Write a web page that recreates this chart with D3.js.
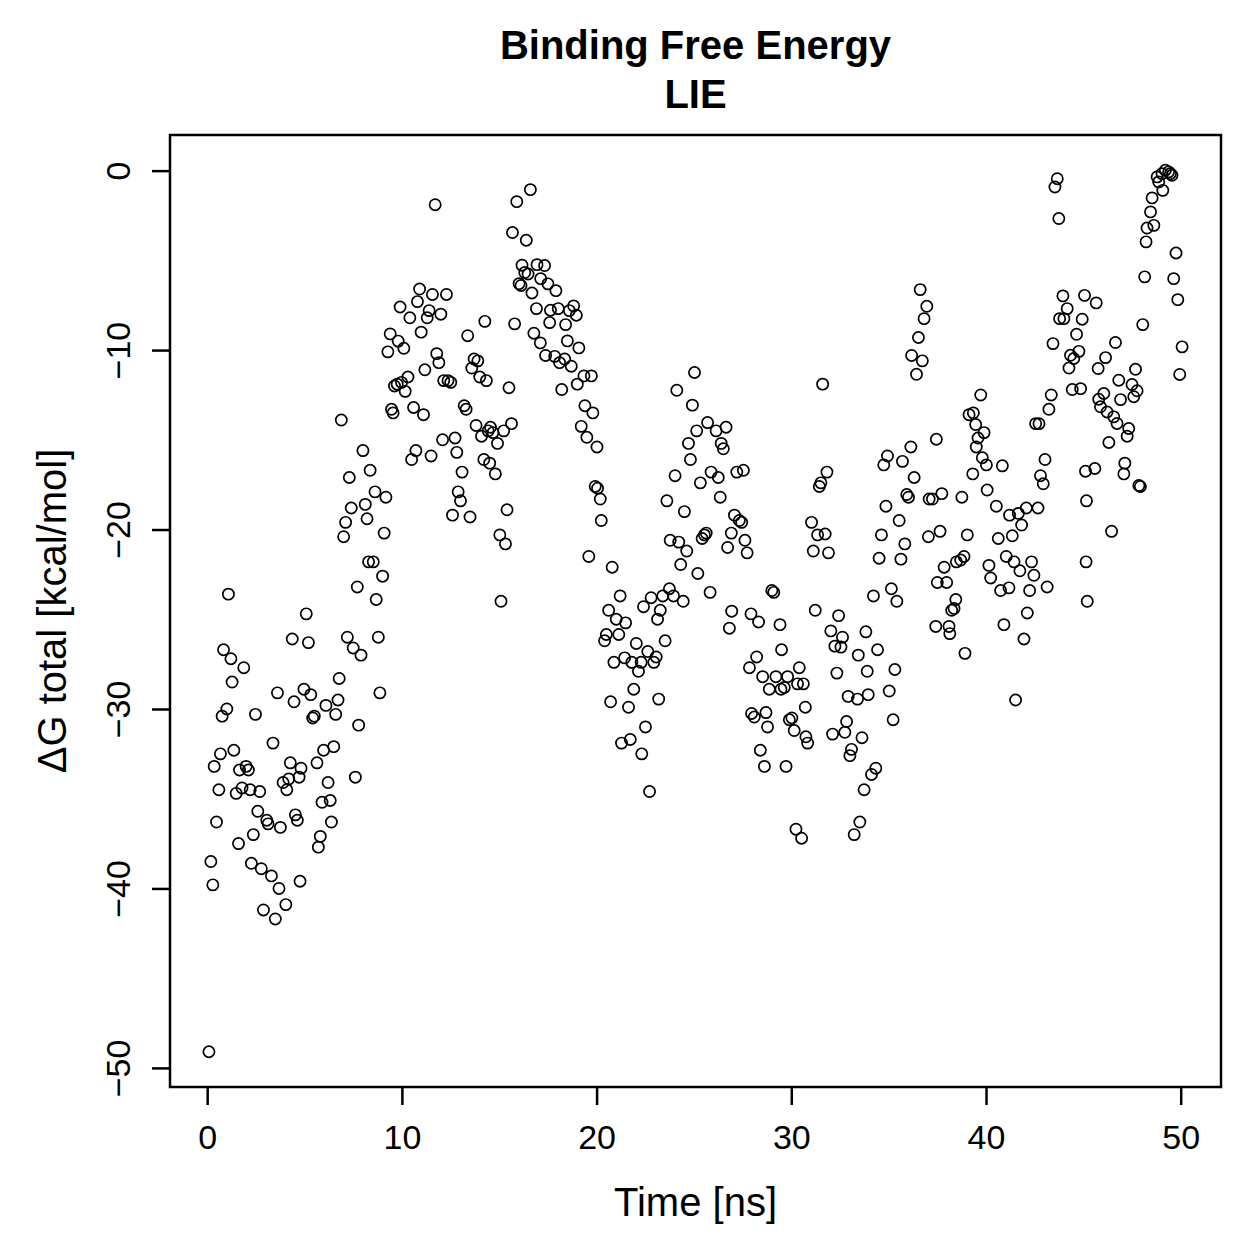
<!DOCTYPE html>
<html>
<head>
<meta charset="utf-8">
<script src="https://cdn.jsdelivr.net/npm/d3@7"></script>
<style>
  body { margin: 0; background: #fff; }
  svg { font-family: "Liberation Sans", Arial, Helvetica, sans-serif; }
</style>
</head>
<body>
<svg id="chart"></svg>
<script>
// time in ns
var time = [
  0.09,0.19,0.29,0.36,0.48,0.6,0.68,0.77,0.84,1.01,1.09,1.22,1.28,1.37,1.49,1.61,1.66,1.79,1.88,2.0,
  2.12,2.21,2.27,2.37,2.48,2.6,2.7,2.78,2.89,3.06,3.13,3.3,3.38,3.5,3.61,3.69,3.76,3.9,4.04,4.09,
  4.19,4.27,4.37,4.46,4.53,4.63,4.72,4.77,4.82,4.97,5.09,5.2,5.32,5.42,5.5,5.64,5.71,5.81,5.9,5.98,
  6.1,6.21,6.32,6.38,6.5,6.6,6.72,6.78,6.89,7.01,7.11,7.2,7.3,7.4,7.5,7.61,7.71,7.78,7.9,8.0,
  8.12,8.21,8.29,8.37,8.53,8.62,8.68,8.79,8.87,9.01,9.09,9.18,9.28,9.4,9.47,9.55,9.62,9.76,9.81,9.91,
  9.98,10.1,10.17,10.31,10.41,10.5,10.6,10.72,10.8,10.91,10.99,11.11,11.18,11.3,11.4,11.5,11.57,11.71,11.79,11.9,
  12.0,12.09,12.15,12.29,12.37,12.51,12.6,12.73,12.82,12.89,13.01,13.09,13.2,13.3,13.38,13.5,13.59,13.71,13.81,13.9,
  14.0,14.09,14.21,14.26,14.34,14.43,14.51,14.55,14.68,14.8,14.91,15.03,15.09,15.23,15.32,15.4,15.5,15.63,15.68,15.79,
  15.9,16.02,16.12,16.17,16.31,16.39,16.48,16.6,16.68,16.78,16.91,16.94,17.11,17.13,17.33,17.38,17.5,17.59,17.63,17.85,
  17.91,18.03,18.1,18.21,18.36,18.41,18.5,18.6,18.7,18.82,18.96,19.01,19.09,19.21,19.35,19.4,19.5,19.6,19.73,19.81,
  19.93,20.02,20.05,20.19,20.24,20.41,20.5,20.62,20.72,20.8,20.89,21.01,21.14,21.21,21.28,21.44,21.49,21.64,21.73,21.81,
  21.91,22.04,22.15,22.29,22.32,22.41,22.51,22.63,22.72,22.8,22.94,23.06,23.13,23.19,23.27,23.4,23.52,23.61,23.74,23.78,
  23.95,24.03,24.12,24.22,24.32,24.45,24.51,24.63,24.72,24.82,24.92,25.03,25.14,25.2,25.33,25.42,25.54,25.63,25.7,25.83,
  25.88,26.14,26.25,26.35,26.4,26.51,26.65,26.73,26.82,26.92,26.94,27.08,27.2,27.33,27.45,27.54,27.62,27.73,27.85,27.93,
  27.96,28.1,28.22,28.32,28.41,28.53,28.62,28.7,28.78,28.87,29.0,29.1,29.21,29.42,29.47,29.5,29.64,29.73,29.81,29.9,
  30.03,30.15,30.24,30.32,30.41,30.53,30.62,30.72,30.75,30.84,31.04,31.13,31.23,31.35,31.44,31.52,31.61,31.74,31.83,31.91,
  32.03,32.12,32.24,32.34,32.43,32.55,32.63,32.75,32.84,32.92,33.01,33.09,33.23,33.4,33.44,33.52,33.63,33.74,33.83,33.9,
  33.95,34.12,34.22,34.34,34.43,34.51,34.63,34.75,34.86,34.94,35.03,35.14,35.23,35.32,35.42,35.54,35.63,35.71,35.83,35.93,
  36.02,36.14,36.18,36.31,36.43,36.53,36.62,36.73,36.82,36.96,37.04,37.08,37.25,37.42,37.45,37.5,37.64,37.73,37.85,37.98,
  38.1,38.14,38.24,38.36,38.45,38.48,38.7,38.76,38.87,38.92,39.04,39.13,39.32,39.35,39.47,39.5,39.59,39.73,39.81,39.9,
  40.02,40.06,40.15,40.24,40.53,40.63,40.75,40.84,40.92,41.04,41.18,41.21,41.35,41.44,41.52,41.66,41.74,41.83,41.95,42.07,
  42.12,42.24,42.34,42.46,42.55,42.67,42.72,42.8,42.94,43.03,43.14,43.23,43.35,43.44,43.54,43.66,43.74,43.78,43.95,44.0,
  44.17,44.26,44.34,44.43,44.51,44.65,44.77,44.86,44.94,45.06,45.11,45.14,45.16,45.2,45.59,45.66,45.76,45.79,45.88,46.05,
  46.14,46.22,46.31,46.45,46.56,46.65,46.73,46.82,46.91,47.08,47.13,47.25,47.33,47.5,47.59,47.68,47.76,47.85,47.93,48.05,
  48.15,48.22,48.27,48.45,48.53,48.62,48.79,48.87,49.04,49.08,49.21,49.38,49.47,49.55,49.64,49.76,49.85,49.95,50.07
];

// delta G total in kcal/mol
var dG = [
  -49.1,-38.5,-39.8,-33.2,-36.3,-34.5,-32.5,-30.4,-26.7,-30.0,-23.6,-27.2,-28.5,-32.3,-34.7,-37.5,-33.4,-34.4,-27.7,-33.2,
  -33.4,-34.5,-38.6,-37.0,-30.3,-35.7,-34.6,-38.9,-41.2,-36.2,-36.4,-39.3,-31.9,-41.7,-29.1,-40.0,-36.6,-34.1,-40.9,-34.5,
  -33.9,-33.0,-26.1,-29.6,-35.9,-36.2,-33.8,-39.6,-33.3,-28.9,-24.7,-26.3,-29.2,-30.5,-30.4,-33.0,-37.7,-37.1,-35.2,-32.3,
  -29.8,-34.1,-35.1,-36.3,-32.1,-30.3,-29.5,-28.3,-13.9,-20.4,-19.6,-26.0,-17.1,-18.8,-26.6,-33.8,-23.2,-30.9,-27.0,-15.6,
  -18.6,-19.4,-21.8,-16.7,-21.8,-17.9,-23.9,-26.0,-29.1,-22.6,-20.2,-18.2,-10.1,-9.1,-13.3,-13.5,-12.0,-11.9,-9.5,-7.6,
  -11.8,-9.9,-12.3,-11.5,-8.2,-16.1,-13.2,-15.6,-7.3,-6.6,-9.0,-13.6,-11.1,-8.2,-7.8,-15.9,-6.9,-1.9,-10.2,-10.7,
  -8.0,-15.0,-11.7,-6.9,-11.7,-11.8,-19.2,-14.9,-15.7,-17.9,-18.4,-16.8,-13.1,-13.3,-9.2,-19.3,-11.0,-10.5,-14.2,-10.6,
  -11.5,-14.8,-16.1,-8.4,-11.7,-14.5,-16.3,-14.3,-14.6,-16.9,-15.2,-20.3,-24.0,-14.5,-20.8,-18.9,-12.1,-14.1,-3.45,-8.54,
  -1.73,-6.3,-6.4,-5.27,-5.68,-3.88,-5.76,-1.06,-6.82,-9.06,-7.69,-5.24,-9.6,-6.02,-5.29,-10.3,-6.31,-8.47,-7.78,-10.35,
  -6.69,-7.69,-10.7,-12.2,-10.5,-8.58,-9.49,-7.8,-10.9,-7.54,-8.06,-11.9,-9.88,-14.25,-11.44,-13.1,-14.86,-21.5,-11.44,-13.5,
  -17.6,-15.4,-17.7,-18.3,-19.5,-26.2,-25.85,-24.5,-29.6,-22.1,-27.4,-25.0,-25.85,-23.7,-31.9,-27.15,-25.2,-29.9,-31.7,-27.4,
  -28.9,-26.35,-27.9,-27.4,-32.5,-24.3,-31.0,-26.8,-34.6,-23.8,-27.4,-27.1,-25.0,-29.45,-24.5,-23.7,-26.2,-18.4,-23.3,-20.6,
  -23.7,-17.0,-12.24,-20.7,-21.95,-24.0,-19.0,-21.2,-15.2,-16.1,-13.07,-11.25,-14.5,-22.45,-17.4,-20.5,-20.3,-20.2,-14.04,-23.5,
  -16.8,-14.5,-17.1,-18.2,-15.2,-15.5,-14.3,-21.0,-25.5,-20.2,-24.55,-19.2,-16.8,-19.5,-19.6,-16.7,-20.6,-21.3,-27.7,-24.7,
  -30.25,-30.45,-27.1,-25.15,-32.3,-28.2,-33.2,-30.2,-31.0,-28.9,-23.4,-23.5,-28.2,-25.3,-28.9,-26.7,-28.8,-33.2,-28.2,-30.6,
  -30.5,-31.2,-36.7,-28.6,-27.7,-37.2,-28.6,-29.9,-31.55,-31.9,-19.6,-21.2,-24.5,-20.3,-17.6,-17.4,-11.9,-20.25,-16.8,-21.3,
  -25.65,-31.4,-26.5,-28.0,-24.8,-26.55,-26.0,-31.3,-30.7,-29.3,-32.6,-32.25,-37.0,-29.45,-27.0,-36.3,-31.6,-34.5,-25.7,-27.9,
  -29.2,-33.65,-23.7,-33.3,-26.7,-21.6,-20.3,-16.4,-18.7,-15.9,-29.0,-23.3,-30.6,-27.8,-24.0,-19.5,-21.65,-16.2,-20.8,-18.05,
  -18.2,-15.4,-10.3,-17.1,-11.35,-9.3,-6.63,-10.6,-8.25,-7.56,-20.4,-18.3,-18.3,-25.4,-14.97,-22.95,-20.1,-18.0,-22.1,-22.95,
  -25.4,-25.8,-24.5,-24.4,-23.9,-21.8,-21.7,-18.2,-21.5,-26.9,-20.3,-13.6,-16.9,-13.5,-14.15,-15.4,-14.9,-12.5,-16.0,-14.6,
  -16.4,-17.8,-22.0,-22.7,-18.7,-20.5,-23.4,-16.45,-25.3,-21.5,-23.25,-19.2,-20.35,-21.8,-29.5,-19.1,-22.3,-19.75,-26.1,-18.8,
  -24.65,-23.4,-21.8,-22.55,-14.1,-18.8,-14.1,-17.0,-17.45,-16.1,-23.2,-13.3,-12.5,-9.64,-0.91,-0.45,-2.67,-8.25,-6.98,-8.25,
  -7.69,-11.0,-10.29,-12.2,-10.47,-9.12,-10.07,-12.15,-8.28,-6.95,-16.75,-21.8,-18.4,-24.0,-16.6,-7.37,-11.03,-12.74,-13.16,-12.42,
  -10.42,-13.45,-15.15,-20.1,-13.72,-9.58,-14.09,-11.68,-12.76,-16.9,-16.3,-14.8,-14.37,-11.92,-12.6,-11.07,-12.27,-17.55,-17.6,-8.58,
  -5.92,-3.97,-3.2,-2.3,-1.52,-3.05,-0.35,-0.63,-0.17,-1.1,0.02,-0.07,-0.17,-0.26,-6.02,-4.59,-7.19,-11.36,-9.82
];

var xTicks = [0, 10, 20, 30, 40, 50];
var yTicks = [-50, -40, -30, -20, -10, 0];

var svgWidth = 1259, svgHeight = 1259;
var margin = { top: 135, right: 38, bottom: 172, left: 170 };
var width = svgWidth - margin.left - margin.right;
var height = svgHeight - margin.top - margin.bottom;

var svg = d3.select("#chart")
    .attr("width", svgWidth)
    .attr("height", svgHeight);

var g = svg.append("g")
    .attr("transform", "translate(" + margin.left + "," + margin.top + ")");

// R style 4% padding on the data range
var xExt = d3.extent(time), yExt = d3.extent(dG);
var xPad = (xExt[1] - xExt[0]) * 0.04, yPad = (yExt[1] - yExt[0]) * 0.04;

var x = d3.scaleLinear()
    .domain([xExt[0] - xPad, xExt[1] + xPad])
    .range([0, width]);
var y = d3.scaleLinear()
    .domain([yExt[0] - yPad, yExt[1] + yPad])
    .range([height, 0]);

// x axis
var xAxis = g.append("g")
    .attr("transform", "translate(0," + height + ")")
    .call(d3.axisBottom(x).tickValues(xTicks).tickSize(18).tickSizeOuter(0));
xAxis.select(".domain").remove();
xAxis.selectAll("line").attr("stroke", "#000").attr("stroke-width", 2.5);
xAxis.selectAll("text")
    .attr("y", 62).attr("dy", 0)
    .attr("fill", "#000")
    .style("font-size", "34px");

// y axis, labels parallel to the axis
var yAxis = g.append("g")
    .call(d3.axisLeft(y).tickValues(yTicks).tickSize(18).tickSizeOuter(0));
yAxis.select(".domain").remove();
yAxis.selectAll("line").attr("stroke", "#000").attr("stroke-width", 2.5);
yAxis.selectAll("text")
    .attr("x", 0).attr("dy", 0)
    .attr("text-anchor", "middle")
    .attr("transform", "translate(-40,0) rotate(-90)")
    .attr("fill", "#000")
    .style("font-size", "34px");

// points
g.append("g")
  .selectAll("circle")
  .data(time)
  .enter().append("circle")
    .attr("cx", function(d) { return x(d); })
    .attr("cy", function(d, i) { return y(dG[i]); })
    .attr("r", 5.6)
    .attr("fill", "none")
    .attr("stroke", "#000")
    .attr("stroke-width", 1.7);

// plot box
g.append("rect")
    .attr("width", width)
    .attr("height", height)
    .attr("fill", "none")
    .attr("stroke", "#000")
    .attr("stroke-width", 2.5);

// titles
svg.append("text")
    .attr("x", margin.left + width / 2).attr("y", 59)
    .attr("text-anchor", "middle")
    .style("font-size", "40px").style("font-weight", "bold")
    .text("Binding Free Energy");
svg.append("text")
    .attr("x", margin.left + width / 2).attr("y", 108)
    .attr("text-anchor", "middle")
    .style("font-size", "40px").style("font-weight", "bold")
    .text("LIE");

svg.append("text")
    .attr("x", margin.left + width / 2).attr("y", 1216)
    .attr("text-anchor", "middle")
    .style("font-size", "40px")
    .text("Time [ns]");

svg.append("text")
    .attr("transform", "translate(66," + (margin.top + height / 2) + ") rotate(-90)")
    .attr("text-anchor", "middle")
    .style("font-size", "40px")
    .text("\u0394G total [kcal/mol]");
</script>
</body>
</html>
